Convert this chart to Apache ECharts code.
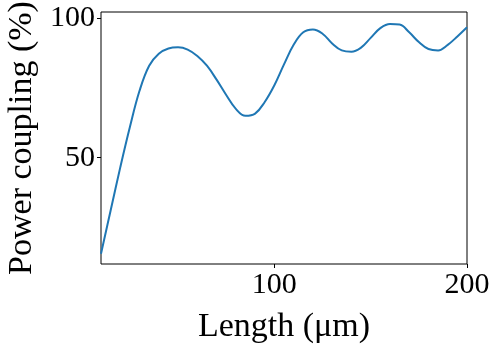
<!DOCTYPE html>
<html>
<head>
<meta charset="utf-8">
<script src="https://cdn.jsdelivr.net/npm/echarts@6/dist/echarts.min.js"></script>
<style>html,body{margin:0;padding:0;background:#fff}#c{width:498px;height:349px}</style>
</head>
<body>
<div id="c"></div>
<script>
const lengths = [10,15,20,25,30,35,40,45,50,55,60,65,70,75,80,85,90,95,100,105,110,115,120,125,130,135,140,145,150,155,160,165,170,175,180,185,190,195,200];
const coupling = [15.5,31,46.5,61,74,83,87.3,89.2,89.6,88.8,86.5,83,78,72.5,67.5,65,65.8,70,76,83.5,90.5,95,96,94.5,91,88.5,88,89.5,93,96.5,98,97.8,95,91.5,89,88.5,90.5,93.5,96.8];
const xTicks = [100,200];
const yTicks = [50,100];
const xLabel = 'Length (μm)';
const yLabel = 'Power coupling (%)';

const font = '"Liberation Serif","DejaVu Serif",serif';
const chart = echarts.init(document.getElementById('c'), null, {renderer:'canvas'});
chart.setOption({
  animation:false,
  grid:{left:101,right:31,top:12,bottom:85,containLabel:false,outerBoundsMode:'none',show:true,borderColor:'#000',borderWidth:1,backgroundColor:'transparent'},
  xAxis:{
    type:'value',min:10,max:200,
    name:xLabel,nameLocation:'middle',nameGap:46,
    nameTextStyle:{fontFamily:font,fontSize:34,color:'#000'},
    axisLine:{show:false},
    splitLine:{show:false},
    axisTick:{show:true,inside:false,length:4,customValues:xTicks,lineStyle:{color:'#000',width:1}},
    axisLabel:{customValues:xTicks,fontFamily:font,fontSize:30,color:'#000',margin:6}
  },
  yAxis:{
    type:'value',min:11.8,max:102.3,
    name:yLabel,nameLocation:'middle',nameGap:58,
    nameTextStyle:{fontFamily:font,fontSize:34,color:'#000'},
    axisLine:{show:false},
    splitLine:{show:false},
    axisTick:{show:true,inside:false,length:4,customValues:yTicks,lineStyle:{color:'#000',width:1}},
    axisLabel:{customValues:yTicks,fontFamily:font,fontSize:30,color:'#000',margin:6}
  },
  series:[{
    type:'line',
    data:lengths.map((x,i)=>[x,coupling[i]]),
    smooth:0.4,
    showSymbol:false,
    lineStyle:{color:'#1f77b4',width:2},
    clip:true
  }]
});
</script>
</body>
</html>
